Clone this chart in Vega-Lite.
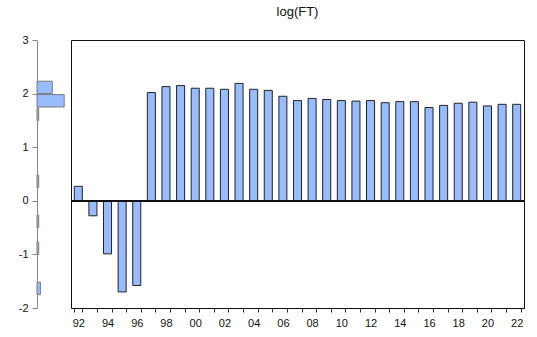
{
  "$schema": "https://vega.github.io/schema/vega-lite/v6.json",
  "padding": {"left": 18, "top": 5, "right": 5, "bottom": 5},
  "background": "white",
  "config": {
    "font": "Liberation Sans",
    "view": {"stroke": null},
    "concat": {"spacing": 0},
    "axis": {"labelFont": "Liberation Sans", "labelColor": "#111", "labelFontSize": 11}
  },
  "data": {"values": [
    {"year": 1992, "v": 0.27}, {"year": 1993, "v": -0.28}, {"year": 1994, "v": -0.99},
    {"year": 1995, "v": -1.7}, {"year": 1996, "v": -1.58}, {"year": 1997, "v": 2.02},
    {"year": 1998, "v": 2.13}, {"year": 1999, "v": 2.15}, {"year": 2000, "v": 2.1},
    {"year": 2001, "v": 2.1}, {"year": 2002, "v": 2.08}, {"year": 2003, "v": 2.19},
    {"year": 2004, "v": 2.08}, {"year": 2005, "v": 2.06}, {"year": 2006, "v": 1.95},
    {"year": 2007, "v": 1.87}, {"year": 2008, "v": 1.91}, {"year": 2009, "v": 1.89},
    {"year": 2010, "v": 1.87}, {"year": 2011, "v": 1.86}, {"year": 2012, "v": 1.87},
    {"year": 2013, "v": 1.83}, {"year": 2014, "v": 1.85}, {"year": 2015, "v": 1.85},
    {"year": 2016, "v": 1.74}, {"year": 2017, "v": 1.78}, {"year": 2018, "v": 1.82},
    {"year": 2019, "v": 1.84}, {"year": 2020, "v": 1.77}, {"year": 2021, "v": 1.8},
    {"year": 2022, "v": 1.8}
  ]},
  "hconcat": [
    {
      "width": 33,
      "height": 268,
      "mark": {"type": "bar", "fill": "#99BBFF", "stroke": "#7a7a7a", "strokeWidth": 1},
      "encoding": {
        "y": {"field": "v", "type": "quantitative", "bin": {"step": 0.25, "extent": [-2, 3]},
          "scale": {"domain": [-2, 3], "nice": false, "zero": false},
          "axis": {"values": [-2, -1, 0, 1, 2, 3], "title": null, "domainColor": "#888", "tickColor": "#888", "tickSize": 5, "grid": false, "labelPadding": 4,
            "labelExpr": "toString(datum.value)"}},
        "x": {"aggregate": "count", "type": "quantitative", "scale": {"domain": [0, 19.4]}, "axis": null}
      }
    },
    {
      "width": 453,
      "height": 268,
      "title": {"text": "log(FT)", "fontSize": 13, "fontWeight": "normal", "font": "Liberation Sans", "color": "#111", "offset": 21},
      "view": {"stroke": "#111", "strokeWidth": 1},
      "layer": [
        {
          "mark": {"type": "bar", "fill": "#99BBFF", "stroke": "#222", "strokeWidth": 1},
          "encoding": {
            "x": {"field": "year", "type": "ordinal",
              "scale": {"paddingInner": 0.45, "paddingOuter": 0.225},
              "axis": {"title": null, "labelAngle": 0, "tickBand": "extent", "tickSize": 4, "tickColor": "#333", "domain": false,
                "labelExpr": "datum.value % 2 == 0 ? slice(toString(datum.value), 2) : ''", "labelPadding": 5}},
            "y": {"field": "v", "type": "quantitative", "scale": {"domain": [-2, 3], "nice": false}, "axis": null}
          }
        },
        {
          "mark": {"type": "rule", "color": "#111", "strokeWidth": 1},
          "encoding": {"y": {"datum": 0}}
        }
      ]
    }
  ]
}
